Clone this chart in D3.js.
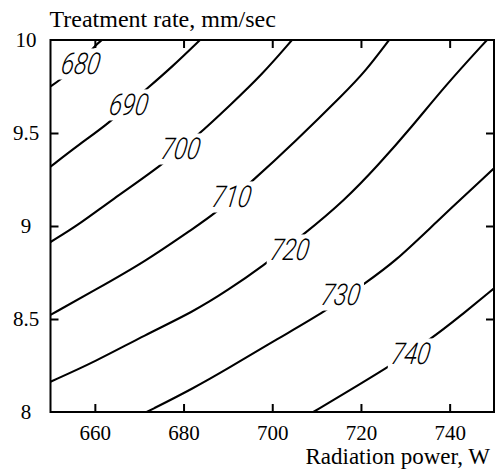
<!DOCTYPE html>
<html>
<head>
<meta charset="utf-8">
<script src="https://cdn.jsdelivr.net/npm/d3@7"></script>
<style>
  html, body { margin: 0; padding: 0; background: #fff; }
  svg { display: block; }
</style>
</head>
<body>
<svg id="chart" width="495" height="473"></svg>
<script>
// ---------- data ----------
const xTicks = [660, 680, 700, 720, 740];
const yTicks = [8, 8.5, 9, 9.5, 10];
const yTickLabels = ["8", "8.5", "9", "9.5", "10"];
const contourLevels = [680, 690, 700, 710, 720, 730, 740];

// contour lines: [power W, rate mm/sec]
const c680 = [[650, 9.750], [652.14, 9.785], [656.9, 9.876], [660.03, 9.970], [661.6, 10]];
const c690 = [[650, 9.319], [656.27, 9.435], [663.42, 9.557], [667.7, 9.656], [671.69, 9.737], [677.40, 9.855], [683.71, 10]];
const c700 = [[650, 8.914], [656.27, 9.005], [663.80, 9.140], [674.69, 9.319], [683.71, 9.498], [690.09, 9.641], [697.62, 9.812], [704.45, 10]];
const c710 = [[650, 8.522], [660.03, 8.656], [671.31, 8.808], [682.20, 8.988], [686.71, 9.059], [695.37, 9.238], [705.13, 9.453], [716.41, 9.718], [720.92, 9.830], [726.33, 10]];
const c720 = [[650, 8.163], [660.03, 8.270], [671.31, 8.414], [682.20, 8.539], [690.09, 8.656], [697.62, 8.781], [707.00, 8.952], [716.41, 9.140], [723.91, 9.328], [731.44, 9.532], [738.95, 9.753], [748.42, 10]];
const c730 = [[671.69, 8.0], [682.20, 8.127], [690.09, 8.235], [701.36, 8.396], [711.89, 8.539], [720.91, 8.692], [727.68, 8.808], [736.70, 9.015], [750, 9.310]];
const c740 = [[709.26, 8.0], [716.41, 8.102], [725.04, 8.226], [735.57, 8.387], [742.72, 8.522], [750, 8.665]];
const contourLines = [c680, c690, c700, c710, c720, c730, c740];

// label anchor (centre) for each contour level
const labelX = [656.9, 667.7, 679.4, 690.9, 704.0, 715.5, 731.3];
const labelY = [9.876, 9.656, 9.419, 9.161, 8.876, 8.634, 8.317];

const titleY = "Treatment rate, mm/sec";
const titleX = "Radiation power, W";

// ---------- drawing ----------
const svg = d3.select("#chart");
const L = 50.5, R = 494, T = 40, B = 412;
const x = d3.scaleLinear().domain([650, 750]).range([L, R]);
const y = d3.scaleLinear().domain([8, 10]).range([B, T]);

svg.append("defs").append("clipPath").attr("id", "clip")
  .append("rect").attr("x", L).attr("y", T).attr("width", R - L).attr("height", B - T);

const line = d3.line().x(d => x(d[0])).y(d => y(d[1])).curve(d3.curveBasis);

const plot = svg.append("g").attr("clip-path", "url(#clip)");
plot.selectAll("path.contour").data(contourLines).join("path")
  .attr("class", "contour")
  .attr("d", line)
  .attr("fill", "none")
  .attr("stroke", "#000")
  .attr("stroke-width", 2.1);

// contour labels
contourLevels.forEach((lv, i) => {
  const g = plot.append("g").attr("transform", `translate(${x(labelX[i])},${y(labelY[i])})`);
  g.append("text")
    .attr("transform", "skewX(-9) scale(0.8,1)")
    .attr("text-anchor", "middle")
    .attr("dy", "0.36em")
    .style("font-family", "Roboto, 'DejaVu Sans', sans-serif")
    .style("font-weight", 300)
    .style("font-style", "italic")
    .style("font-size", "30px")
    .attr("fill", "#000")
    .text(lv);
  const bb = g.node().getBBox();
  g.insert("rect", "text")
    .attr("x", bb.x - 1).attr("y", bb.y + 2)
    .attr("width", bb.width + 2).attr("height", bb.height - 4)
    .attr("fill", "#fff");
});

// frame
svg.append("rect").attr("x", L).attr("y", T).attr("width", R - L).attr("height", B - T)
  .attr("fill", "none").attr("stroke", "#000").attr("stroke-width", 2);

// axes with inward ticks
const tickLen = 8;
const axB = svg.append("g").attr("transform", `translate(0,${B})`)
  .call(d3.axisBottom(x).tickValues(xTicks).tickSizeInner(-tickLen).tickSizeOuter(0).tickPadding(tickLen + 5));
const axT = svg.append("g").attr("transform", `translate(0,${T})`)
  .call(d3.axisTop(x).tickValues(xTicks).tickSizeInner(-tickLen).tickSizeOuter(0).tickFormat(""));
const axL = svg.append("g").attr("transform", `translate(${L},0)`)
  .call(d3.axisLeft(y).tickValues(yTicks.slice(1, 4)).tickSizeInner(-tickLen).tickSizeOuter(0).tickFormat(""));
const axR = svg.append("g").attr("transform", `translate(${R},0)`)
  .call(d3.axisRight(y).tickValues(yTicks.slice(1, 4)).tickSizeInner(-tickLen).tickSizeOuter(0).tickFormat(""));
[axB, axT, axL, axR].forEach(a => {
  a.attr("font-family", null).attr("font-size", null);
  a.select(".domain").remove();
  a.selectAll(".tick line").attr("stroke", "#000").attr("stroke-width", 2);
});
axB.selectAll(".tick text")
  .style("font-family", "'Liberation Serif', 'Times New Roman', serif")
  .style("font-size", "21px").attr("fill", "#000");

// y tick labels (centred to the left of the axis)
svg.append("g").selectAll("text").data(yTicks).join("text")
  .attr("x", 26)
  .attr("y", d => y(d))
  .attr("dy", "0.35em")
  .attr("text-anchor", "middle")
  .style("font-family", "'Liberation Serif', 'Times New Roman', serif")
  .style("font-size", "21px")
  .attr("fill", "#000")
  .text((d, i) => yTickLabels[i]);

// axis titles
svg.append("text").attr("x", 49.5).attr("y", 27)
  .style("font-family", "'Liberation Serif', 'Times New Roman', serif")
  .style("font-size", "24px").attr("fill", "#000").text(titleY);
svg.append("text").attr("x", 490).attr("y", 464).attr("text-anchor", "end")
  .style("font-family", "'Liberation Serif', 'Times New Roman', serif")
  .style("font-size", "23px").attr("fill", "#000").text(titleX);
</script>
</body>
</html>
